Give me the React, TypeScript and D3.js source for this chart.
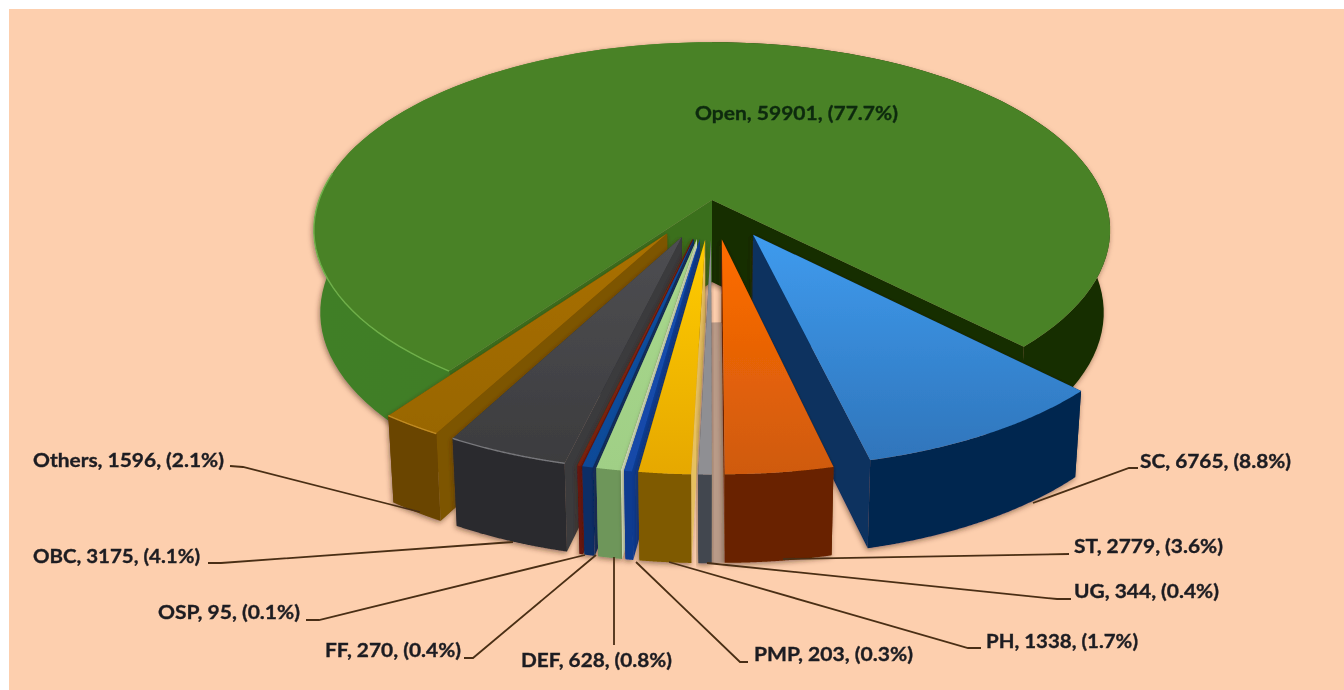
import React from "react";
import * as d3 from "d3";

const categories = ["Open", "SC", "ST", "UG", "PH", "PMP", "DEF", "FF", "OSP", "OBC", "Others"];
const values = [59901, 6765, 2779, 344, 1338, 203, 628, 270, 95, 3175, 1596];
const percents = ["77.7", "8.8", "3.6", "0.4", "1.7", "0.3", "0.8", "0.4", "0.1", "4.1", "2.1"];

// styles per slice
const topFar = ["#4a8228", "#3f9bee", "#ff6c00", "#8f8f93", "#ffcc00", "#1450b0", "#a8d88c", "#0d50a0", "#8a2c14", "#4e4e52", "#a97000"];
const topNear = ["#4a8228", "#2f75bb", "#cf5a0c", "#8f8f93", "#e6a800", "#1248a8", "#a0cf86", "#0c4a98", "#7a2410", "#3c3c3e", "#996600"];
const outerWall = ["#3f7f26", "#05284f", "#692400", "#42464f", "#7f5a00", "#0d3a90", "#6e965a", "#082f66", "#6a1608", "#2b2b2d", "#6b4500"];
const startWall = ["#3a6f1c", "#05294f", "#6b2500", "#42464f", "#e6c060", "#0d3a90", "#d8eac8", "#082f66", "#6a1608", "#3a3a3d", "#7d5400"];
const endWall = ["#152d00", "#07305f", "#6b2500", "#42464f", "#7f5a00", "#0d3a90", "#6e965a", "#082f66", "#6a1608", "#2b2b2d", "#6b4500"];
const rimLight = ["#6fb04a", "", "", "", "", "", "", "", "", "#77777b", "#c08a20"];
const drawOrder = [1, 2, 10, 9, 8, 7, 6, 5, 4, 3];

// label layout: text box x0, x1, baseline y
const labelX0 = [695, 1140, 1074, 1074, 986, 754, 521, 325, 158, 33, 33];
const labelX1 = [898, 1291, 1223, 1219, 1138, 913, 672, 461, 300, 200, 224];
const labelY = [120, 468, 553, 598, 648, 661, 667, 657, 619, 563, 467];
const leaders: ([number, number][] | null)[] = [
  null,
  [[1138, 468], [1129, 468], [1033, 503]],
  [[1069, 554], [783, 559]],
  [[1071, 599], [1057, 599], [707, 563]],
  [[981, 648], [968, 648], [669, 562]],
  [[748, 662], [740, 662], [636, 562]],
  [[614, 645], [614, 557]],
  [[464, 658], [473, 658], [596, 555]],
  [[306, 620], [319, 620], [585, 555]],
  [[208, 563], [221, 563], [513, 542]],
  [[230, 466], [243, 467], [420, 512]],
];

// perspective projection of a unit pie plane on to the page
const CX = 712, CY0 = 200, A = 393, B = 183, K = 0.16, DEPTH = 73, EXPLODE = 0.21, CONVERGE = 0.016;
const START_DEG = 215.6;
const rad = (d: number) => (d * Math.PI) / 180;

function project(X: number, Y: number, h: number): [number, number] {
  const w = 1 - K * Y;
  const x = (A * X) / w;
  const y = (B * Y) / w;
  return [CX + x * (1 - CONVERGE * h), CY0 + y + (h * DEPTH) / w + (h ? 9 * (1 - Math.abs(Y)) * (Y > -0.5 ? 1 : 0) : 0)];
}

const pieGen = d3
  .pie<number>()
  .sort(null)
  .startAngle(rad(START_DEG))
  .endAngle(rad(START_DEG + 360));
const arcs = pieGen(values);
const line = d3.line<[number, number]>();

function geometry(i: number) {
  const a0 = arcs[i].startAngle, a1 = arcs[i].endAngle;
  const mid = (a0 + a1) / 2;
  const e = i === 0 ? 0 : EXPLODE;
  const ox = e * Math.sin(mid), oy = -e * Math.cos(mid);
  const angles = d3.range(0, 121).map((k) => a0 + ((a1 - a0) * k) / 120);
  const pt = (a: number, r: number, h: number) =>
    project(ox + r * Math.sin(a), oy - r * Math.cos(a), h);
  const rimTop = angles.map((a) => pt(a, 1, 0));
  const rimBot = angles.map((a) => pt(a, 1, 1));
  const apexTop = pt(a0, 0, 0), apexBot = pt(a0, 0, 1);
  return { a0, a1, mid, pt, rimTop, rimBot, apexTop, apexBot };
}

const closed = (p: [number, number][]) => line(p) + "Z";

function Slice({ i }: { i: number }) {
  const g = geometry(i);
  const n = g.rimTop.length - 1;
  const farY = g.apexTop[1];
  const nearY = d3.max(g.rimTop, (p) => p[1]) as number;
  const rimEnd = Math.min(n, 28);
  const endFace = <path d={closed([g.apexTop, g.rimTop[n], g.rimBot[n], g.apexBot])} fill={endWall[i]} />;
  const startFace = <path d={closed([g.apexTop, g.rimTop[0], g.rimBot[0], g.apexBot])} fill={startWall[i]} />;
  // the wall that faces the viewer is painted last; slices right of centre show their end wall
  const rightSide = i !== 0 && Math.sin(g.mid) > 0;
  return (
    <g filter="url(#shadow)">
      <defs>
        <linearGradient id={`top${i}`} gradientUnits="userSpaceOnUse" x1={0} x2={0} y1={farY} y2={nearY}>
          <stop offset="0" stopColor={topFar[i]} />
          <stop offset="1" stopColor={topNear[i]} />
        </linearGradient>
      </defs>
      {rightSide ? startFace : endFace}
      {rightSide ? endFace : startFace}
      <path
        d={closed([...g.rimTop, ...g.rimBot.slice().reverse()])}
        fill={i === 0 ? "url(#openWall)" : outerWall[i]}
      />
      <path d={closed([g.apexTop, ...g.rimTop])} fill={`url(#top${i})`} />
      {rimLight[i] && (
        <path
          d={line(i === 0 ? g.rimTop.slice(0, rimEnd) : g.rimTop) as string}
          fill="none"
          stroke={rimLight[i]}
          strokeWidth={1.4}
        />
      )}
    </g>
  );
}

export default function App() {
  const ug = geometry(3), st = geometry(2);
  const gapFloor: [number, number][] = [
    ug.apexBot,
    ug.rimBot[0],
    st.rimBot[st.rimBot.length - 1],
    st.apexBot,
  ];
  return (
    <svg
      width={1344}
      height={690}
      style={{ position: "absolute", left: 0, top: 0, display: "block" }}
      xmlns="http://www.w3.org/2000/svg"
    >
      <defs>
        <filter id="soft" x="-2%" y="-2%" width="104%" height="104%">
          <feGaussianBlur stdDeviation="0.7" />
        </filter>
        <filter id="shadow" x="-10%" y="-10%" width="120%" height="125%">
          <feDropShadow dx="-1" dy="2" stdDeviation="2.5" floodColor="#3a2010" floodOpacity="0.5" />
        </filter>
        <linearGradient id="openWall" gradientUnits="userSpaceOnUse" x1={315} x2={1110} y1={0} y2={0}>
          <stop offset="0" stopColor="#417f26" />
          <stop offset="0.5" stopColor="#3f7a24" />
          <stop offset="0.5" stopColor="#152d00" />
          <stop offset="1" stopColor="#152d00" />
        </linearGradient>
      </defs>
      <rect x={9} y={9} width={1335} height={681} fill="#fdcfae" />
      <g filter="url(#soft)">
        <Slice i={0} />
        <path d={closed(gapFloor)} fill="#b99b88" />
        {drawOrder.map((i) => (
          <Slice key={i} i={i} />
        ))}
        {leaders.map((pts, i) =>
          pts ? (
            <path key={i} d={line(pts) as string} fill="none" stroke="#4a2f14" strokeWidth={1.8} />
          ) : null
        )}
        {categories.map((c, i) => (
          <text
            key={c}
            x={labelX0[i]}
            y={labelY[i]}
            textLength={labelX1[i] - labelX0[i]}
            lengthAdjust="spacingAndGlyphs"
            fontFamily="Lato, 'Open Sans', sans-serif"
            fontWeight={700}
            fontSize={19.5}
            stroke={i === 0 ? "#0f2a10" : "#1d1d22"}
            strokeWidth={0.35}
            fill={i === 0 ? "#0f2a10" : "#1d1d22"}
          >
            {`${c}, ${values[i]}, (${percents[i]}%)`}
          </text>
        ))}
      </g>
    </svg>
  );
}
